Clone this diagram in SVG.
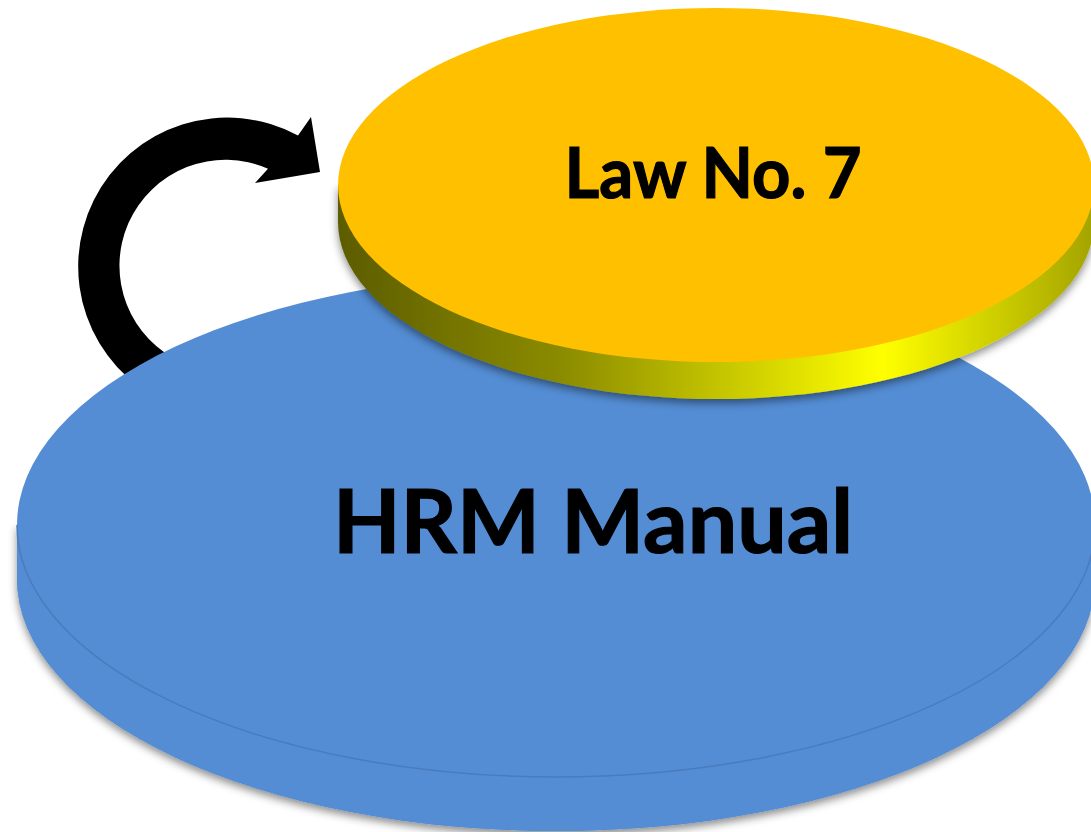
<svg xmlns="http://www.w3.org/2000/svg" width="1091" height="832" viewBox="0 0 1091 832">
  <defs>
    <filter id="shadow" x="-10%" y="-10%" width="120%" height="130%">
      <feDropShadow dx="0" dy="4" stdDeviation="4" flood-color="#000" flood-opacity="0.45"/>
    </filter>
    <linearGradient id="rim" x1="338" y1="0" x2="1094" y2="0" gradientUnits="userSpaceOnUse">
      <stop offset="0" stop-color="#5c5c00"/>
      <stop offset="0.3" stop-color="#8c8c00"/>
      <stop offset="0.72" stop-color="#ffff00"/>
      <stop offset="1" stop-color="#a3a300"/>
    </linearGradient>
    <style>
      .label { font-family: Lato, "Open Sans", "Liberation Sans", sans-serif; font-weight: bold; fill: #000; stroke: #000; stroke-width: 1.2; text-anchor: middle; }
      .blue { fill: #548dd4; }
    </style>
  </defs>
  <rect width="1091" height="832" fill="#fff"/>
  <g id="connectors">
    <path id="cycle-arrow" d="M165,402 A149,149 0 1 1 298,135.5 L311,117 L320,172 L255,183 L268,168.7 A106,106 0 1 0 183,363 Z" fill="#000"/>
  </g>
  <g id="hrm-manual">
    <g filter="url(#shadow)">
      <path class="blue" d="M17,525 L17,579 A539,252 0 0 0 1095,579 L1095,525 Z"/>
      <ellipse class="blue" cx="556" cy="579" rx="539" ry="252"/>
    </g>
    <rect class="blue" x="17" y="525" width="1078" height="54"/>
    <ellipse class="blue" cx="556" cy="525" rx="539" ry="252"/>
    <path d="M17,525 A539,252 0 0 0 1095,525" fill="none" stroke="#4a7cbd" stroke-width="1.5"/>
    <text class="label" x="593" y="553" font-size="88" textLength="520" lengthAdjust="spacingAndGlyphs">HRM Manual</text>
  </g>
  <g id="law-no-7">
    <g filter="url(#shadow)">
      <path d="M338,185 L338,222 A378,177 0 0 0 1094,222 L1094,185 Z" fill="url(#rim)"/>
    </g>
    <ellipse cx="716" cy="185" rx="378" ry="177" fill="#ffc000"/>
    <text class="label" x="713" y="198" font-size="70" textLength="297" lengthAdjust="spacingAndGlyphs">Law No. 7</text>
  </g>
</svg>
